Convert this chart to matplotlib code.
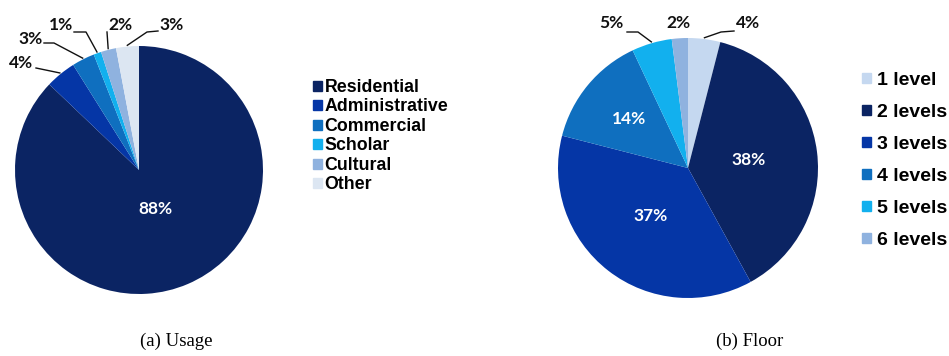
import numpy as np
import matplotlib.pyplot as plt
from matplotlib.patches import Patch

W, H = 949, 356

# (a) building usage
usage_labels = ["Residential", "Administrative", "Commercial", "Scholar", "Cultural", "Other"]
usage_pct = [88, 4, 3, 1, 2, 3]
usage_colors = ["#0b2463", "#0536a6", "#0f6fbf", "#12b0ee", "#8fb2df", "#dce6f2"]

# (b) number of floors
floor_labels = ["1 level", "2 levels", "3 levels", "4 levels", "5 levels", "6 levels"]
floor_pct = [4, 38, 37, 14, 5, 2]
floor_colors = ["#c5d8f0", "#0b2463", "#0536a6", "#0f6fbf", "#12b0ee", "#8fb2df"]

LABEL_FONT = dict(family="Lato", weight="bold", size=12.5)
LEGEND_FONT = dict(family="Liberation Sans", weight="bold")

fig = plt.figure(figsize=(W / 100, H / 100), dpi=100)


def draw_pie(cx, cy, r, values, colors, inside, outside):
    """cx, cy, r in pixels (y from top). inside: {idx: dist},
    outside: {idx: (text_xy, elbow_xy or None)} in pixels."""
    ax = fig.add_axes([(cx - r) / W, (H - cy - r) / H, 2 * r / W, 2 * r / H])
    wedges, _ = ax.pie(values, colors=colors, startangle=90, counterclock=False,
                       radius=1, wedgeprops=dict(linewidth=0))
    ax.set_xlim(-1, 1)
    ax.set_ylim(-1, 1)

    def to_data(x, y):
        return (x - cx) / r, (cy - y) / r

    for i, w in enumerate(wedges):
        mid = np.deg2rad((w.theta1 + w.theta2) / 2)
        text = f"{values[i]}%"
        if i in inside:
            d = inside[i]
            ax.text(d * np.cos(mid), d * np.sin(mid), text, color="white",
                    ha="center", va="center", **LABEL_FONT)
        if i in outside:
            txy, elbow = outside[i]
            ax.text(*to_data(*txy), text, color="#111111", ha="center",
                    va="center", clip_on=False, **LABEL_FONT)
            if elbow is not None:
                pts = [to_data(*p) for p in elbow]
                pts.append((1.01 * np.cos(mid), 1.01 * np.sin(mid)))
                xs, ys = zip(*pts)
                ax.plot(xs, ys, color="#111111", lw=1.0, clip_on=False)
    return ax, wedges


# usage pie
_, uw = draw_pie(139, 170, 124, usage_pct, usage_colors,
                 inside={0: 0.345},
                 outside={1: ((21, 63), [(36, 68)]),
                          2: ((31, 39), [(44, 43), (54, 43)]),
                          3: ((61, 25), [(74, 32), (86, 32)]),
                          4: ((120, 25), [(107, 32)]),
                          5: ((172, 25), [(158, 31), (147, 32)])})

# floor pie
_, fw = draw_pie(688, 168, 130, floor_pct, floor_colors,
                 inside={1: 0.47, 2: 0.47, 3: 0.59},
                 outside={0: ((748, 23), [(734, 31), (721, 32)]),
                          4: ((611, 23), [(627, 32), (638, 32)]),
                          5: ((678, 23), None)})

fig.legend(handles=[Patch(color=c) for c in usage_colors], labels=usage_labels,
           loc="upper left", bbox_to_anchor=(313 / W, 1 - 79 / H),
           frameon=False, prop=dict(size=12.8, **LEGEND_FONT),
           handlelength=0.5, handleheight=0.5, handletextpad=0.15,
           labelspacing=0.14, borderpad=0, borderaxespad=0)

fig.legend(handles=[Patch(color=c) for c in floor_colors], labels=floor_labels,
           loc="upper left", bbox_to_anchor=(862 / W, 1 - 72 / H),
           frameon=False, prop=dict(size=14, **LEGEND_FONT),
           handlelength=0.45, handleheight=0.45, handletextpad=0.3,
           labelspacing=0.77, borderpad=0, borderaxespad=0)

fig.text(176 / W, 1 - 341 / H, "(a) Usage", ha="center", va="center",
         family="Liberation Serif", size=13.5)
fig.text(750 / W, 1 - 341 / H, "(b) Floor", ha="center", va="center",
         family="Liberation Serif", size=13.5)

fig.savefig("out.png", dpi=100, facecolor="white")
